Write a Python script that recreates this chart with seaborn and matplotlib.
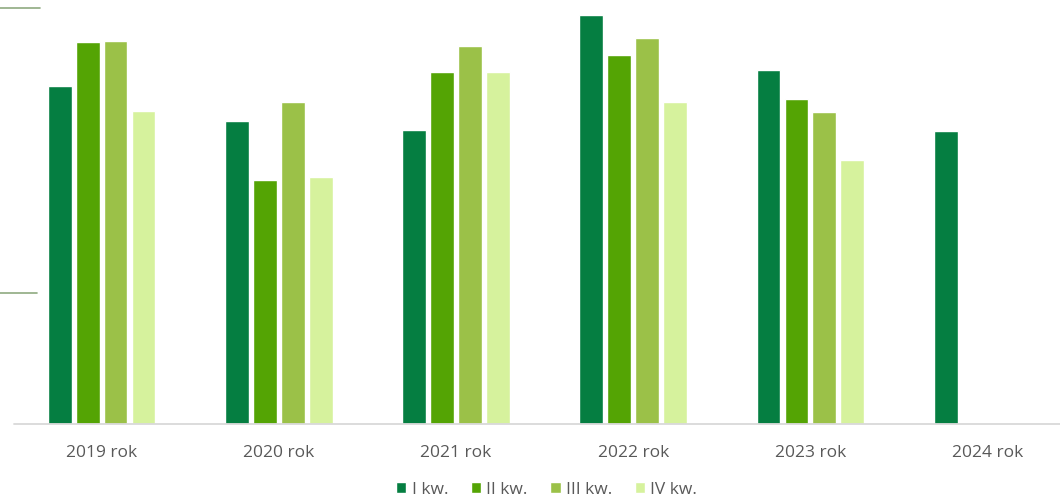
import numpy as np
import pandas as pd
import seaborn as sns
import matplotlib
matplotlib.use("Agg")
import matplotlib.pyplot as plt
from matplotlib.lines import Line2D

years = ["2019 rok", "2020 rok", "2021 rok", "2022 rok", "2023 rok", "2024 rok"]
series = ["I kw.", "II kw.", "III kw.", "IV kw."]
q1 = [338.5, 303.5, 294.5, 409.0, 354.5, 293.5]
q2 = [382.5, 244.5, 352.5, 369.0, 325.0, np.nan]
q3 = [383.5, 322.0, 378.5, 386.5, 312.0, np.nan]
q4 = [313.0, 247.0, 352.0, 322.0, 264.0, np.nan]
colors = ["#057E41", "#54A404", "#9BC148", "#D6F29D"]

rows = []
for s, vals in zip(series, [q1, q2, q3, q4]):
    for y, v in zip(years, vals):
        rows.append({"rok": y, "kwartał": s, "wartość": v})
df = pd.DataFrame(rows)

sns.set_theme(style="white")
plt.rcParams["font.family"] = ["Open Sans", "DejaVu Sans"]

W, H = 1060, 499
fig = plt.figure(figsize=(W / 100, H / 100), dpi=100)
ax_left, ax_w = 13.0, 1063.2
ax = fig.add_axes([ax_left / W, (H - 424) / H, ax_w / W, (424 - 8) / H])

sns.barplot(data=df, x="rok", y="wartość", hue="kwartał", order=years,
            hue_order=series, palette=colors, width=0.63, gap=0.15,
            saturation=1, ax=ax, legend=True)

ax.set_ylim(0, 416)
ax.set_xlim(-0.5, len(years) - 0.5)
ax.set_xlabel("")
ax.set_ylabel("")
ax.set_yticks([])
for sp in ["top", "right", "left", "bottom"]:
    ax.spines[sp].set_visible(False)
ax.tick_params(axis="x", length=0, pad=15, labelsize=12.5, labelcolor="#595959")

# baseline (visible part ends at figure edge)
yb = (H - 424) / H
fig.add_artist(Line2D([14 / W, 1.0], [yb, yb], transform=fig.transFigure,
                      color="#D9D9D9", linewidth=1.3))

# left-hand gridline stubs
for val, xr in [(416, 40), (131, 37)]:
    yfig = fig.transFigure.inverted().transform(ax.transData.transform((0, val)))[1]
    fig.add_artist(Line2D([0, xr / W], [yfig, yfig], transform=fig.transFigure,
                          color="#8FAA80", linewidth=1.2))

leg = fig.legend(*ax.get_legend_handles_labels(), loc="center",
                 bbox_to_anchor=(546.5 / W, (H - 490) / H),
                 ncol=4, frameon=False, fontsize=12.5, handlelength=0.6,
                 handleheight=0.6, handletextpad=0.3, columnspacing=1.3)
ax.get_legend().remove()
for t in leg.get_texts():
    t.set_color("#595959")

fig.savefig("out.png", dpi=100)
